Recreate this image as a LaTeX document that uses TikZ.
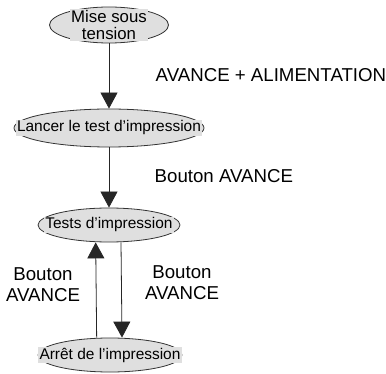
\documentclass[tikz,border=0pt]{standalone}
\usepackage{fontspec}
\setmainfont{Liberation Sans}
\usetikzlibrary{shapes.geometric}
\usetikzlibrary{arrows.meta}

\tikzset{
  etat/.style={ellipse, draw=black!80, fill=gray!25, line width=0.6pt, inner sep=0pt},
  etiq/.style={fill=gray!25, inner sep=0.8pt, align=center, font=\fontsize{11.6}{12}\selectfont},
  fleche/.style={-{Triangle[length=12pt, width=12.75pt]}, line width=0.6pt, black!85},
  cmd/.style={align=center, font=\fontsize{14}{15.5}\selectfont}
}

\begin{document}
\begin{tikzpicture}[x=0.75pt, y=-0.75pt]
\useasboundingbox (0,0) rectangle (386,374);
% states of the printer
\node[etat, minimum width=89.25pt, minimum height=27pt] (mise) at (109,25) {};
\node[etat, minimum width=142.5pt, minimum height=28.5pt] (lancer) at (109,128) {};
\node[etat, minimum width=106.5pt, minimum height=25.5pt] (tests) at (109,225) {};
\node[etat, minimum width=108pt, minimum height=25.5pt] (arret) at (110,355) {};
% text over the ellipses
\node[etiq, font=\fontsize{12.6}{12.5}\selectfont] (miseT) at (mise) {Mise sous\\tension};
\node[etiq] (lancerT) at (lancer) {Lancer le test d'impression};
\node[etiq] (testsT) at (tests) {Tests d'impression};
\node[etiq] (arretT) at (arret) {Arrêt de l'impression};
% transitions
\draw[fleche] (mise) -- (lancer);
\draw[fleche] (lancer) -- (tests);
\draw[fleche] ([xshift=9pt]tests.south) -- ([xshift=9pt]arret.north);
\draw[fleche] ([xshift=-10pt]arret.north) -- ([xshift=-10pt]tests.south);
% button labels
\node[cmd, anchor=west] (l1) at (151,75) {AVANCE + ALIMENTATION};
\node[cmd, anchor=west] (l2) at (150,176) {Bouton AVANCE};
\node[cmd] (l3) at (43,285) {Bouton\\AVANCE};
\node[cmd] (l4) at (182,283) {Bouton\\AVANCE};
\end{tikzpicture}
\end{document}
